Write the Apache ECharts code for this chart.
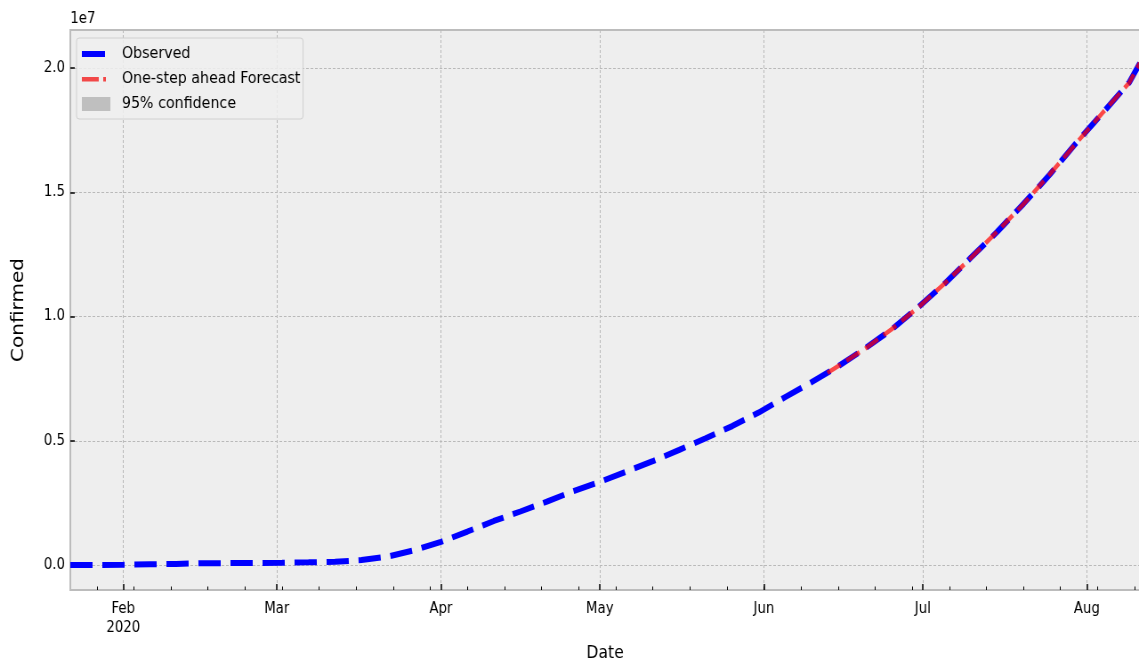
<!DOCTYPE html>
<html>
<head>
<meta charset="UTF-8">
<title>Confirmed</title>
<script src="https://cdn.jsdelivr.net/npm/echarts@6/dist/echarts.min.js"></script>
<style>
html, body { margin: 0; padding: 0; background: #fff; overflow: hidden; }
/* the figure is drawn 1280 wide and squeezed to the 1139 window */
#chart { width: 1280px; height: 663px; transform: scaleX(0.88984); transform-origin: 0 0; }
</style>
</head>
<body>
<div id="chart"></div>
<script>
// observed cumulative confirmed cases
var obsDates = ['2020-01-22','2020-01-27','2020-02-01','2020-02-06','2020-02-11','2020-02-16','2020-02-21','2020-02-26',
	'2020-03-02','2020-03-07','2020-03-12','2020-03-17','2020-03-22','2020-03-27','2020-04-01','2020-04-06','2020-04-11',
	'2020-04-16','2020-04-21','2020-04-26','2020-05-01','2020-05-06','2020-05-11','2020-05-16','2020-05-21','2020-05-26',
	'2020-05-31','2020-06-05','2020-06-10','2020-06-15','2020-06-20','2020-06-25','2020-06-30','2020-07-05','2020-07-10',
	'2020-07-15','2020-07-20','2020-07-25','2020-07-30','2020-08-04','2020-08-09','2020-08-11'];
var obsValues = [555, 2927, 12038, 30818, 45221, 71224, 76843, 81397,
	90306, 105847, 128343, 197146, 337020, 596366, 932605, 1346299, 1771514,
	2152437, 2549123, 2972363, 3343777, 3759967, 4177502, 4634068, 5103006, 5589626,
	6135506, 6754926, 7360239, 7991000, 8700000, 9460000, 10350000, 11300000, 12350000,
	13400000, 14530000, 15720000, 16990000, 18200000, 19420000, 20200000];

// one-step ahead forecast and its 95% band
var fcDates = ['2020-06-13','2020-06-16','2020-06-20','2020-06-25','2020-06-30','2020-07-05','2020-07-10',
	'2020-07-15','2020-07-20','2020-07-25','2020-07-30','2020-08-04','2020-08-09','2020-08-11'];
var fcValues = [7730000, 8140000, 8690000, 9470000, 10340000, 11310000, 12340000,
	13410000, 14520000, 15730000, 16980000, 18210000, 19410000, 20210000];
var ciLower = [7690000, 8100000, 8650000, 9430000, 10300000, 11270000, 12300000,
	13370000, 14480000, 15690000, 16940000, 18170000, 19370000, 20170000];
var ciUpper = [7770000, 8180000, 8730000, 9510000, 10380000, 11350000, 12380000,
	13450000, 14560000, 15770000, 17020000, 18250000, 19450000, 20250000];

var monthTicks = ['2020-02-01','2020-03-01','2020-04-01','2020-05-01','2020-06-01','2020-07-01','2020-08-01'];
var monthLabels = ['Feb\n2020','Mar','Apr','May','Jun','Jul','Aug'];
var yTicks = [0, 5000000, 10000000, 15000000, 20000000];
var yTickLabels = ['0.0','0.5','1.0','1.5','2.0'];

var xStart = '2020-01-22', xEnd = '2020-08-11';
var yMin = -1006000, yMax = 21530000;

var FONT = "'DejaVu Sans', sans-serif";

function ts(s){ return Date.parse(s + 'T00:00:00Z'); }

function pairs(dates, vals){
	var out = [];
	for (var i = 0; i < dates.length; i++) out.push([ts(dates[i]), vals[i]]);
	return out;
}

var monthTs = monthTicks.map(ts);

// weekly minor ticks (Mondays)
var minorTs = [];
for (var t = ts('2020-01-27'); t <= ts(xEnd); t += 7 * 86400000) minorTs.push(t);

var bandWidth = [];
for (var i = 0; i < ciUpper.length; i++) bandWidth.push(ciUpper[i] - ciLower[i]);

var chart = echarts.init(document.getElementById('chart'));

var gridLine = { show: true, lineStyle: { color: '#b9b9b9', type: [3, 2], width: 1 } };

var option = {
	animation: false,
	backgroundColor: '#ffffff',
	grid: {
		left: 79, right: -1, top: 30, bottom: 73,
		outerBoundsMode: 'none',
		show: true, backgroundColor: '#eeeeee', borderColor: '#bcbcbc', borderWidth: 2
	},
	graphic: [{
		type: 'text', left: 79, top: 12,
		style: { text: '1e7', font: '15px ' + FONT, fill: '#000' }
	}],
	legend: {
		left: 86, top: 38, orient: 'vertical',
		padding: [8, 3, 7, 6],
		itemWidth: 32, itemHeight: 14, itemGap: 9,
		backgroundColor: 'rgba(238,238,238,0.85)',
		borderColor: '#d0d0d0', borderWidth: 1, borderRadius: 3,
		textStyle: { fontFamily: FONT, fontSize: 16, color: '#000', padding: [0, 0, 0, 8] },
		data: [
			{ name: 'Observed', icon: 'path://M0,0L0,0M32,14L32,14M0,4h26v6h-26z' },
			{ name: 'One-step ahead Forecast', icon: 'path://M0,0L0,0M32,14L32,14M0,5h19v4.5h-19zM24,5h3v4.5h-3z' },
			{ name: '95% confidence', icon: 'path://M0,0L0,0M32,14L32,14M0,0h32v14h-32z' }
		]
	},
	xAxis: [{
		type: 'value',
		min: ts(xStart), max: ts(xEnd),
		name: 'Date', nameLocation: 'middle', nameGap: 54,
		nameTextStyle: { fontFamily: FONT, fontSize: 17.5, color: '#000' },
		axisLine: { show: false, onZero: false },
		axisTick: { show: true, inside: true, length: 6, customValues: monthTs,
			lineStyle: { color: '#000', width: 1.5 } },
		axisLabel: {
			customValues: monthTs, margin: 9.5, fontFamily: FONT, fontSize: 15, color: '#000', lineHeight: 19,
			formatter: function (v) {
				var k = monthTs.indexOf(v);
				return k >= 0 ? monthLabels[k] : '';
			}
		},
		splitLine: gridLine
	}, {
		type: 'value',
		gridIndex: 0, position: 'bottom',
		min: ts(xStart), max: ts(xEnd),
		axisLine: { show: false, onZero: false },
		axisTick: { show: true, inside: true, length: 3.5, customValues: minorTs,
			lineStyle: { color: '#000', width: 1 } },
		axisLabel: { show: false, customValues: minorTs },
		splitLine: { show: false }
	}],
	yAxis: {
		type: 'value',
		min: yMin, max: yMax,
		name: 'Confirmed', nameLocation: 'middle', nameGap: 48, nameRotate: 90,
		nameTextStyle: { fontFamily: FONT, fontSize: 20, color: '#000' },
		axisLine: { show: false, onZero: false },
		axisTick: { show: true, inside: true, length: 5, customValues: yTicks,
			lineStyle: { color: '#000', width: 1.5 } },
		axisLabel: {
			customValues: yTicks, margin: 6, fontFamily: FONT, fontSize: 15, color: '#000',
			formatter: function (v) {
				var k = yTicks.indexOf(v);
				return k >= 0 ? yTickLabels[k] : '';
			}
		},
		splitLine: gridLine
	},
	series: [{
		name: 'ciLower',
		type: 'line', stack: 'ci', symbol: 'none', silent: true,
		data: pairs(fcDates, ciLower),
		lineStyle: { opacity: 0 }
	}, {
		name: '95% confidence',
		type: 'line', stack: 'ci', symbol: 'none', silent: true,
		data: pairs(fcDates, bandWidth),
		color: '#bfbfbf',
		lineStyle: { width: 0.8, color: '#c4c4c4' },
		areaStyle: { color: 'rgba(150,150,150,0.6)' }
	}, {
		name: 'Observed',
		type: 'line', symbol: 'none',
		data: pairs(obsDates, obsValues),
		color: '#0000ff',
		lineStyle: { color: '#0000ff', width: 6, type: [25, 11], cap: 'butt' }
	}, {
		name: 'One-step ahead Forecast',
		type: 'line', symbol: 'none',
		data: pairs(fcDates, fcValues),
		color: '#f24848',
		lineStyle: { color: 'rgba(255,0,0,0.7)', width: 4.5, type: [17, 7.5], cap: 'butt' }
	}]
};
chart.setOption(option);
</script>
</body>
</html>
